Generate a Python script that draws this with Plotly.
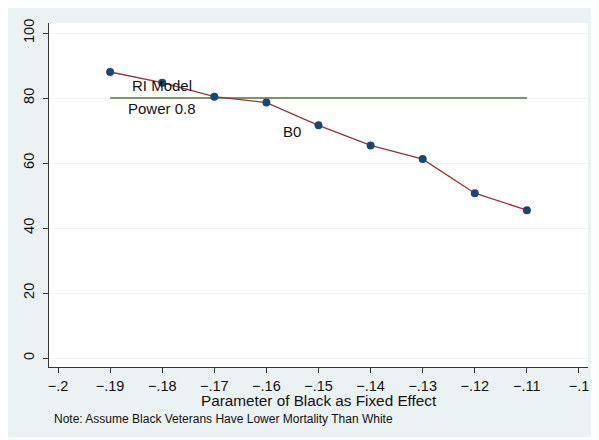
import plotly.graph_objects as go

# Data
x_vals = [-0.19, -0.18, -0.17, -0.16, -0.15, -0.14, -0.13, -0.12, -0.11]
power_vals = [88.0, 84.7, 80.4, 78.6, 71.6, 65.4, 61.2, 50.7, 45.5]
target_x = [-0.19, -0.11]
target_y = [80, 80]
x_ticks = [-0.2, -0.19, -0.18, -0.17, -0.16, -0.15, -0.14, -0.13, -0.12, -0.11, -0.1]
x_ticklabels = ["\u2212.2", "\u2212.19", "\u2212.18", "\u2212.17", "\u2212.16", "\u2212.15",
                "\u2212.14", "\u2212.13", "\u2212.12", "\u2212.11", "\u2212.1"]
y_ticks = [0, 20, 40, 60, 80, 100]
labels = [("RI Model", -0.18, 83.8), ("Power 0.8", -0.18, 76.8), ("B0", -0.155, 69.8)]

BG = "#EAF2F3"
FONT = "Liberation Sans, Arial, sans-serif"

fig = go.Figure()
fig.add_trace(go.Scatter(x=target_x, y=target_y, mode="lines",
                         line=dict(color="#55752f", width=1.3), showlegend=False))
fig.add_trace(go.Scatter(x=x_vals, y=power_vals, mode="lines+markers",
                         line=dict(color="#90353b", width=1.3),
                         marker=dict(color="#1a476f", size=8), showlegend=False))

for txt, lx, ly in labels:
    fig.add_annotation(x=lx, y=ly, text=txt, showarrow=False,
                       font=dict(size=15, color="#111", family=FONT),
                       xanchor="center", yanchor="middle")

fig.add_annotation(xref="paper", yref="paper", x=0.5, y=-0.097,
                   text="Parameter of Black as Fixed Effect", showarrow=False,
                   font=dict(size=15.3, color="#111", family=FONT), borderpad=0,
                   xanchor="center", yanchor="middle")
fig.add_annotation(xref="paper", yref="paper", x=0.0056, y=-0.151,
                   text="Note: Assume Black Veterans Have Lower Mortality Than White",
                   showarrow=False, font=dict(size=12, color="#111", family=FONT),
                   xanchor="left", yanchor="middle")

# white strip below the light-blue graph region
fig.add_shape(type="rect", xref="paper", yref="paper", x0=-1, x1=2, y0=-1, y1=-70 / 344,
              fillcolor="white", line=dict(width=0), layer="below")

fig.update_layout(
    width=599, height=440,
    margin=dict(l=41, r=19, t=15, b=81),
    paper_bgcolor=BG, plot_bgcolor="white",
    font=dict(family=FONT, color="#111"),
    showlegend=False,
)
fig.update_xaxes(range=[-0.20173, -0.09827], tickvals=x_ticks, ticktext=x_ticklabels,
                 ticks="outside", ticklen=5, tickcolor="#333", showgrid=False,
                 showline=True, linecolor="#333", linewidth=1.3, zeroline=False,
                 automargin=False, tickfont=dict(size=14.5, color="#111"))
fig.update_yaxes(range=[-2.77, 103.08], tickvals=y_ticks, tickangle=-90,
                 ticks="outside", ticklen=5, tickcolor="#333", showgrid=True,
                 gridcolor=BG, gridwidth=1, showline=True, linecolor="#333",
                 linewidth=1.3, zeroline=False, automargin=False, ticklabelstandoff=3,
                 tickfont=dict(size=14.5, color="#111"))

fig.write_html("out.html")
